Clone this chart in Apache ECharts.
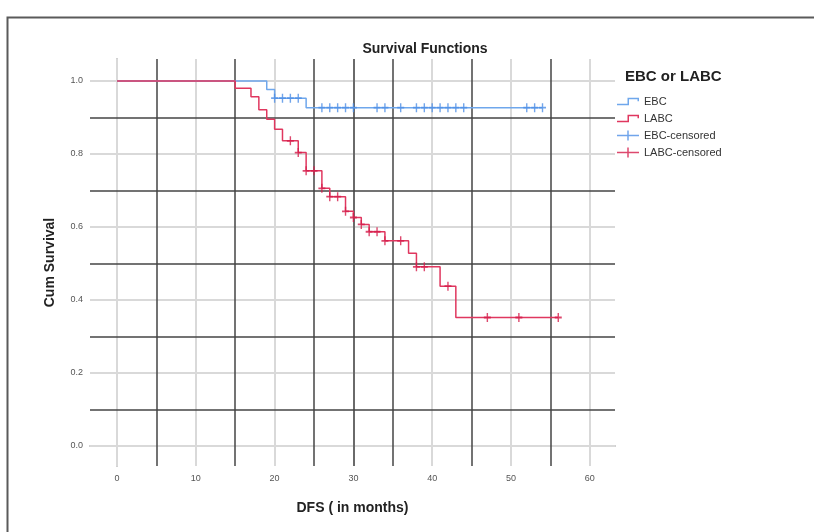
<!DOCTYPE html>
<html>
<head>
<meta charset="utf-8">
<script src="https://cdn.jsdelivr.net/npm/echarts@6/dist/echarts.min.js"></script>
<style>
  * { margin: 0; padding: 0; }
  body { background: #fff; }
  #chart { width: 814px; height: 532px; }
</style>
</head>
<body>
<div id="chart"></div>
<script>
  // tick labels and reference lines
  const xTicks = [0, 10, 20, 30, 40, 50, 60];
  const yTicks = [0, 0.2, 0.4, 0.6, 0.8, 1.0];
  const xRefLines = [5, 15, 25, 30, 35, 45, 55];
  const yRefLines = [0.1, 0.3, 0.5, 0.7, 0.9];

  // EBC: step times / cum survival after each step
  const ebcTime = [0, 19, 20, 24];
  const ebcSurv = [1.0, 0.977, 0.953, 0.927];
  const ebcEnd = 54;
  const ebcCensored = [20, 21, 22, 23, 26, 27, 28, 29, 30, 33, 34, 36, 38, 39, 40, 41, 42, 43, 44, 52, 53, 54];

  // LABC
  const labcTime = [0, 15, 17, 18, 19, 20, 21, 23, 24, 26, 27, 29, 30, 31, 32, 34, 37, 38, 41, 43];
  const labcSurv = [1.0, 0.980, 0.957, 0.921, 0.895, 0.868, 0.836, 0.804, 0.754, 0.706, 0.683, 0.643, 0.626, 0.607, 0.587, 0.562, 0.528, 0.491, 0.438, 0.352];
  const labcEnd = 56;
  const labcCensored = [22, 23, 24, 25, 26, 27, 28, 29, 30, 31, 32, 33, 34, 36, 38, 39, 42, 47, 51, 56];

  const blueLine = '#6fa7ec', blueMark = '#4d8fe6';
  const redLine = '#e0375f', redMark = '#d41c4a';

  function kmPoints(times, surv, end) {
    const pts = times.map((t, i) => [t, surv[i]]);
    pts.push([end, surv[surv.length - 1]]);
    return pts;
  }
  function survAt(times, surv, t) {
    let s = surv[0];
    for (let i = 0; i < times.length; i++) {
      if (times[i] <= t) s = surv[i];
    }
    return s;
  }

  const plusPath = 'path://M4,0 H6 V4 H10 V6 H6 V10 H4 V6 H0 V4 H4 Z';
  const stepIcon = 'path://M0,7 H10.5 V1 H22 V4.5 H20.5 V2.5 H12 V8.5 H0 Z';
  const plusIcon = 'path://M0,4.25 H10.25 V0 H11.75 V4.25 H22 V5.75 H11.75 V10 H10.25 V5.75 H0 Z';

  const light = { color: '#d9d9d9', width: 2, type: 'solid' };
  const dark = { color: '#454545', width: 1.5, type: 'solid' };
  const gridLines = [].concat(
    xTicks.map(v => ({ xAxis: v, lineStyle: light })),
    yTicks.map(v => ({ yAxis: v, lineStyle: light })),
    xRefLines.map(v => ({ xAxis: v, lineStyle: dark })),
    yRefLines.map(v => ({ yAxis: v, lineStyle: dark }))
  );

  const myChart = echarts.init(document.getElementById('chart'));
  const option = {
    animation: false,
    textStyle: { fontFamily: 'Liberation Sans, Arial, sans-serif' },
    title: [
      {
        text: 'Survival Functions',
        left: 420, top: 37,
        textAlign: 'center',
        textStyle: { fontSize: 14, fontWeight: 'bold', color: '#222' }
      },
      {
        text: 'EBC or LABC',
        left: 620, top: 64,
        textStyle: { fontSize: 15, fontWeight: 'bold', color: '#222' }
      }
    ],
    legend: {
      orient: 'vertical',
      left: 617, top: 96, padding: 0,
      itemWidth: 22, itemHeight: 10, itemGap: 6,
      textStyle: { fontSize: 11, color: '#333' },
      data: [
        { name: 'EBC', icon: stepIcon, itemStyle: { color: blueLine, borderWidth: 0 } },
        { name: 'LABC', icon: stepIcon, itemStyle: { color: redLine, borderWidth: 0 } },
        { name: 'EBC-censored', icon: plusIcon, itemStyle: { color: blueMark, borderWidth: 0 } },
        { name: 'LABC-censored', icon: plusIcon, itemStyle: { color: redMark, borderWidth: 0 } }
      ]
    },
    grid: { left: 90, right: 199, top: 59, bottom: 66 },
    graphic: [{
      type: 'rect', left: 5, top: 15, silent: true,
      shape: { width: 840, height: 540 },
      style: { fill: 'none', stroke: '#5a5a5a', lineWidth: 2 }
    }],
    xAxis: {
      type: 'value', min: -3.43, max: 63.2,
      name: 'DFS ( in months)', nameLocation: 'middle', nameGap: 35,
      nameTextStyle: { fontSize: 14, fontWeight: 'bold', color: '#222' },
      axisLine: { lineStyle: { color: '#8c8c8c', width: 1.5 } },
      axisTick: { show: false },
      splitLine: { show: false },
      axisLabel: { customValues: xTicks, fontSize: 9, color: '#555', margin: 8 }
    },
    yAxis: {
      type: 'value', min: -0.0548, max: 1.0603,
      name: 'Cum Survival', nameLocation: 'middle', nameGap: 33,
      nameTextStyle: { fontSize: 14, fontWeight: 'bold', color: '#222' },
      axisLine: { show: true, lineStyle: { color: '#8c8c8c', width: 1.5 } },
      axisTick: { show: false },
      splitLine: { show: false },
      axisLabel: {
        customValues: yTicks, fontSize: 9, color: '#555', margin: 7,
        formatter: v => v.toFixed(1)
      }
    },
    series: [
      {
        name: 'grid', type: 'line', data: [], silent: true, z: 1,
        markLine: { silent: true, z: 1, symbol: ['none', 'none'], label: { show: false }, data: gridLines }
      },
      {
        name: 'EBC', type: 'line', step: 'end', z: 3,
        data: kmPoints(ebcTime, ebcSurv, ebcEnd), showSymbol: false,
        lineStyle: { color: blueLine, width: 1.5 }, itemStyle: { color: blueLine }
      },
      {
        name: 'LABC', type: 'line', step: 'end', z: 3,
        data: kmPoints(labcTime, labcSurv, labcEnd), showSymbol: false,
        lineStyle: { color: redLine, width: 1.5 }, itemStyle: { color: redLine }
      },
      {
        name: 'EBC-censored', type: 'scatter', z: 4,
        data: ebcCensored.map(t => [t, survAt(ebcTime, ebcSurv, t)]),
        symbol: plusPath, symbolSize: [7, 9], symbolKeepAspect: false,
        itemStyle: { color: blueMark }
      },
      {
        name: 'LABC-censored', type: 'scatter', z: 4,
        data: labcCensored.map(t => [t, survAt(labcTime, labcSurv, t)]),
        symbol: plusPath, symbolSize: [7, 9], symbolKeepAspect: false,
        itemStyle: { color: redMark }
      }
    ]
  };
  myChart.setOption(option);
</script>
</body>
</html>
